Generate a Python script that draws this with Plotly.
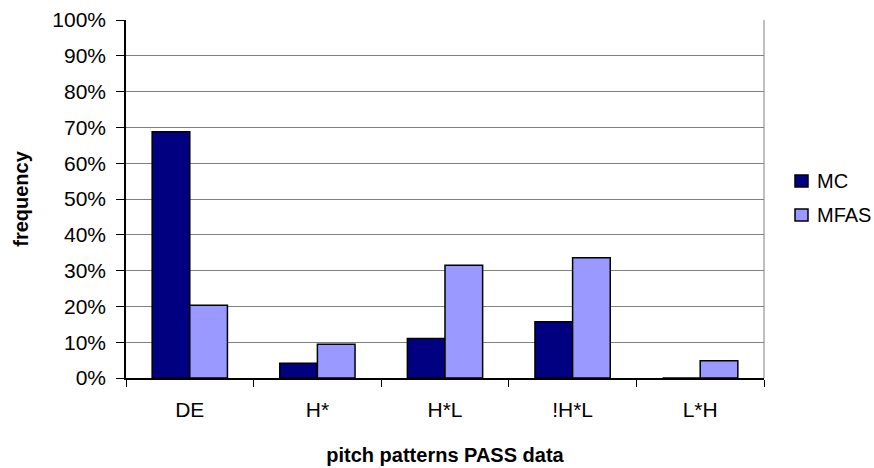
import plotly.graph_objects as go

categories = ["DE", "H*", "H*L", "!H*L", "L*H"]
mc = [0.688, 0.041, 0.110, 0.157, 0.0]
mfas = [0.203, 0.094, 0.315, 0.336, 0.048]
series_names = ["MC", "MFAS"]
series_colors = ["#000080", "#9999FF"]
yticks = [0, 0.1, 0.2, 0.3, 0.4, 0.5, 0.6, 0.7, 0.8, 0.9, 1.0]
ytick_labels = [f"{int(round(v*100))}%" for v in yticks]

font = "Liberation Sans, Arial, sans-serif"

W, H = 874, 468
L, R, T, B = 126, 110, 20, 90
pw, ph = W - L - R, H - T - B

fig = go.Figure()
for name, vals, col in zip(series_names, [mc, mfas], series_colors):
    fig.add_trace(go.Bar(x=categories, y=vals, name=name,
                         marker=dict(color=col, line=dict(color="black", width=1.5))))

fig.update_layout(
    width=W, height=H,
    margin=dict(l=L, r=R, t=T, b=B),
    paper_bgcolor="white", plot_bgcolor="white",
    barmode="group", bargap=0.41, bargroupgap=0,
    font=dict(family=font, size=20, color="black"),
    showlegend=False,
)
fig.update_xaxes(
    showline=True, linecolor="black", linewidth=1.5,
    ticks="outside", tickson="boundaries", ticklen=7, tickcolor="black",
    tickfont=dict(size=21), ticklabelstandoff=12,
    title=dict(text="<b>pitch patterns PASS data</b>", font=dict(size=20), standoff=28),
    mirror=False, automargin=False,
)
fig.update_yaxes(
    range=[0, 1.0], tickvals=yticks, ticktext=ytick_labels,
    showline=True, linecolor="black", linewidth=1.5,
    ticks="outside", ticklen=8, tickcolor="black",
    showgrid=True, gridcolor="#808080", gridwidth=1,
    tickfont=dict(size=21), ticklabelstandoff=6,
    title=dict(text="<b>frequency</b>", font=dict(size=20), standoff=18),
    zeroline=False, automargin=False,
)
# right border of plot area
fig.add_shape(type="line", xref="paper", yref="paper", x0=1, x1=1, y0=0, y1=1,
              line=dict(color="#808080", width=1))

# manual legend
def px_x(x):
    return (x - L) / pw

def px_y(y):
    return (H - B - y) / ph

for i, (name, col) in enumerate(zip(series_names, series_colors)):
    cy = 181 + 34 * i
    fig.add_shape(type="rect", xref="paper", yref="paper",
                  x0=px_x(795), x1=px_x(808), y0=px_y(cy + 6), y1=px_y(cy - 6),
                  fillcolor=col, line=dict(color="black", width=1.5))
    fig.add_annotation(xref="paper", yref="paper", x=px_x(815), y=px_y(cy),
                       xanchor="left", yanchor="middle", showarrow=False,
                       text=name, font=dict(size=20, family=font, color="black"))

fig.write_html("out.html")
